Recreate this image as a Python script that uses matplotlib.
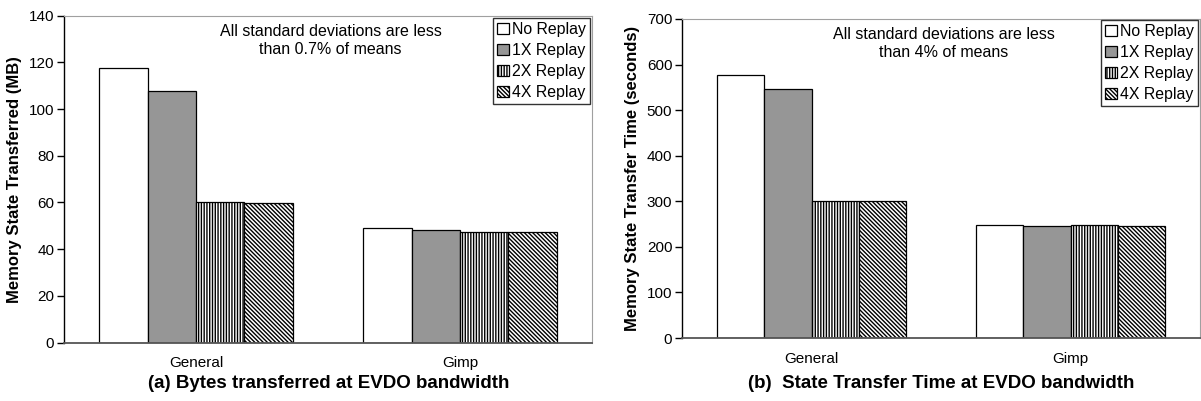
import matplotlib
matplotlib.use('Agg')
import matplotlib.pyplot as plt
import numpy as np

plt.rcParams['font.family'] = ['Liberation Sans', 'DejaVu Sans']
plt.rcParams['hatch.linewidth'] = 1.0

# ------------------------------------------------------------
# Data
# ------------------------------------------------------------
categories = ['General', 'Gimp']
series_names = ['No Replay', '1X Replay', '2X Replay', '4X Replay']

bytes_mb = [
    [117.5, 49.2],   # No Replay
    [107.8, 48.1],   # 1X Replay
    [60.1, 47.5],    # 2X Replay
    [59.8, 47.5],    # 4X Replay
]
time_s = [
    [577, 248.4],
    [545.7, 246.2],
    [299.6, 247.7],
    [300, 246],
]

left_ticks = [0, 20, 40, 60, 80, 100, 120, 140]
right_ticks = [0, 100, 200, 300, 400, 500, 600, 700]

# bar styles per series: face colour, hatch
STYLES = [
    ('white', None),
    ('#969696', None),
    ('white', '||||||'),
    ('white', '\\' * 8),
]

W, H = 1201, 401
BAR_W = 0.183


def draw_panel(ax, values, ticks, ylabel, note, legend_anchor):
    x = np.arange(len(categories))
    for i, (vals, name) in enumerate(zip(values, series_names)):
        face, hatch = STYLES[i]
        offset = (i - 1.5) * BAR_W
        ax.bar(x + offset, vals, width=BAR_W, color=face, edgecolor='black',
               linewidth=0.9, hatch=hatch, label=name)

    ax.set_xlim(-0.5, 1.5)
    ax.set_ylim(ticks[0], ticks[-1])
    ax.set_yticks(ticks)
    ax.set_xticks(x)
    ax.set_xticklabels(categories, fontsize=11)
    ax.tick_params(axis='x', length=0, pad=10)
    ax.tick_params(axis='y', length=5, width=1, direction='out',
                   labelsize=11, pad=2)
    ax.set_ylabel(ylabel, fontsize=12, fontweight='bold', labelpad=5)

    ax.spines['left'].set_color('black')
    ax.spines['left'].set_linewidth(1.0)
    ax.spines['bottom'].set_color('#555555')
    ax.spines['bottom'].set_linewidth(1.3)
    ax.spines['top'].set_color('#a0a0a0')
    ax.spines['right'].set_color('#a0a0a0')

    ax.text(0.505, 0.975, note, transform=ax.transAxes, ha='center',
            va='top', fontsize=11.5, linespacing=1.25)

    leg = ax.legend(loc='upper right', bbox_to_anchor=legend_anchor,
                    bbox_transform=fig.transFigure, fancybox=False,
                    framealpha=1, edgecolor='#333333', fontsize=11.4,
                    handlelength=0.75, handleheight=0.75, handletextpad=0.2,
                    labelspacing=0.38, borderpad=0.25, borderaxespad=0)
    leg.get_frame().set_linewidth(1.0)


fig = plt.figure(figsize=(W / 100.0, H / 100.0), dpi=100)

ax1 = fig.add_axes([64.0 / W, (H - 342.5) / H, 528.0 / W, (342.5 - 15.7) / H])
ax2 = fig.add_axes([682.0 / W, (H - 338.0) / H, 518.0 / W, (338.0 - 19.0) / H])

draw_panel(ax1, bytes_mb, left_ticks, 'Memory State Transferred (MB)',
           'All standard deviations are less\nthan 0.7% of means',
           (590.0 / W, (H - 18.0) / H))
draw_panel(ax2, time_s, right_ticks, 'Memory State Transfer Time (seconds)',
           'All standard deviations are less\nthan 4% of means',
           (1198.0 / W, (H - 20.0) / H))

fig.text(329.0 / W, (H - 383.0) / H, '(a) Bytes transferred at EVDO bandwidth',
         ha='center', va='center', fontsize=13.5, fontweight='bold')
fig.text(941.0 / W, (H - 383.0) / H, '(b)  State Transfer Time at EVDO bandwidth',
         ha='center', va='center', fontsize=13.5, fontweight='bold')

fig.savefig('out.png', dpi=100)
